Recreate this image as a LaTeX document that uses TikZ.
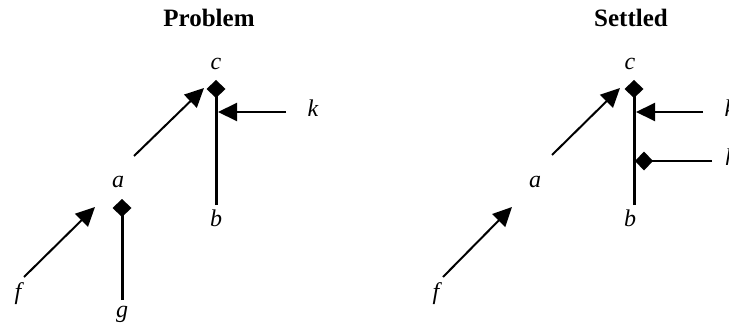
\documentclass[tikz,border=0pt]{standalone}
\usepackage{fontspec}
\setmainfont{Liberation Serif}
\usetikzlibrary{arrows.meta}
\tikzset{
  lbl/.style={inner sep=0pt, font=\itshape\fontsize{24}{28}\selectfont},
  ttl/.style={inner sep=0pt, anchor=base, font=\bfseries\fontsize{25}{30}\selectfont},
  arr/.style={line width=2pt, -{Triangle[length=19pt,width=18pt]}},
  attack/.style={line width=3pt, -{Diamond[length=18pt,width=19pt]}},
  thinattack/.style={line width=2.4pt, -{Diamond[length=18pt,width=19pt]}}
}
\begin{document}
\begin{tikzpicture}[x=1pt,y=-1pt]
\useasboundingbox (0,0) rectangle (729,329);
% ---------- Problem ----------
\node[ttl] (t1) at (209,27) {Problem};
\node[lbl] (c1) at (216,64) {c};
\node[lbl] (b1) at (216,218) {b};
\node[lbl] (k1) at (313,108) {k};
\node[lbl] (a1) at (118,182) {a};
\node[lbl] (g1) at (122,314) {g};
\node[lbl] (f1) at (18,294) {f};
\coordinate (c1d) at (216,80);
\coordinate (b1e) at (216,205);
\coordinate (k1s) at (286,112);
\coordinate (k1e) at (218,112);
\coordinate (a1s) at (134,156);
\coordinate (c1a) at (204,88);
\coordinate (f1s) at (24,277);
\coordinate (a1e) at (95,207);
\coordinate (a1d) at (122,199);
\coordinate (g1e) at (122,300);
\draw[attack] (b1e) -- (c1d);
\draw[arr] (k1s) -- (k1e);
\draw[arr] (a1s) -- (c1a);
\draw[arr] (f1s) -- (a1e);
\draw[attack] (g1e) -- (a1d);
% ---------- Settled ----------
\node[ttl] (t2) at (631,27) {Settled};
\node[lbl] (c2) at (630,64) {c};
\node[lbl] (b2) at (630,218) {b};
\node[lbl] (k2) at (730,108) {k};
\node[lbl] (h2) at (731,157) {h};
\node[lbl] (a2) at (535,182) {a};
\node[lbl] (f2) at (436,294) {f};
\coordinate (c2d) at (634,80);
\coordinate (b2e) at (634,205);
\coordinate (k2s) at (703,112);
\coordinate (k2e) at (636,112);
\coordinate (h2s) at (712,161);
\coordinate (h2e) at (635,161);
\coordinate (a2s) at (552,155);
\coordinate (c2a) at (620,88);
\coordinate (f2s) at (443,277);
\coordinate (a2e) at (512,207);
\draw[attack] (b2e) -- (c2d);
\draw[arr] (k2s) -- (k2e);
\draw[thinattack] (h2s) -- (h2e);
\draw[arr] (a2s) -- (c2a);
\draw[arr] (f2s) -- (a2e);
\end{tikzpicture}
\end{document}
